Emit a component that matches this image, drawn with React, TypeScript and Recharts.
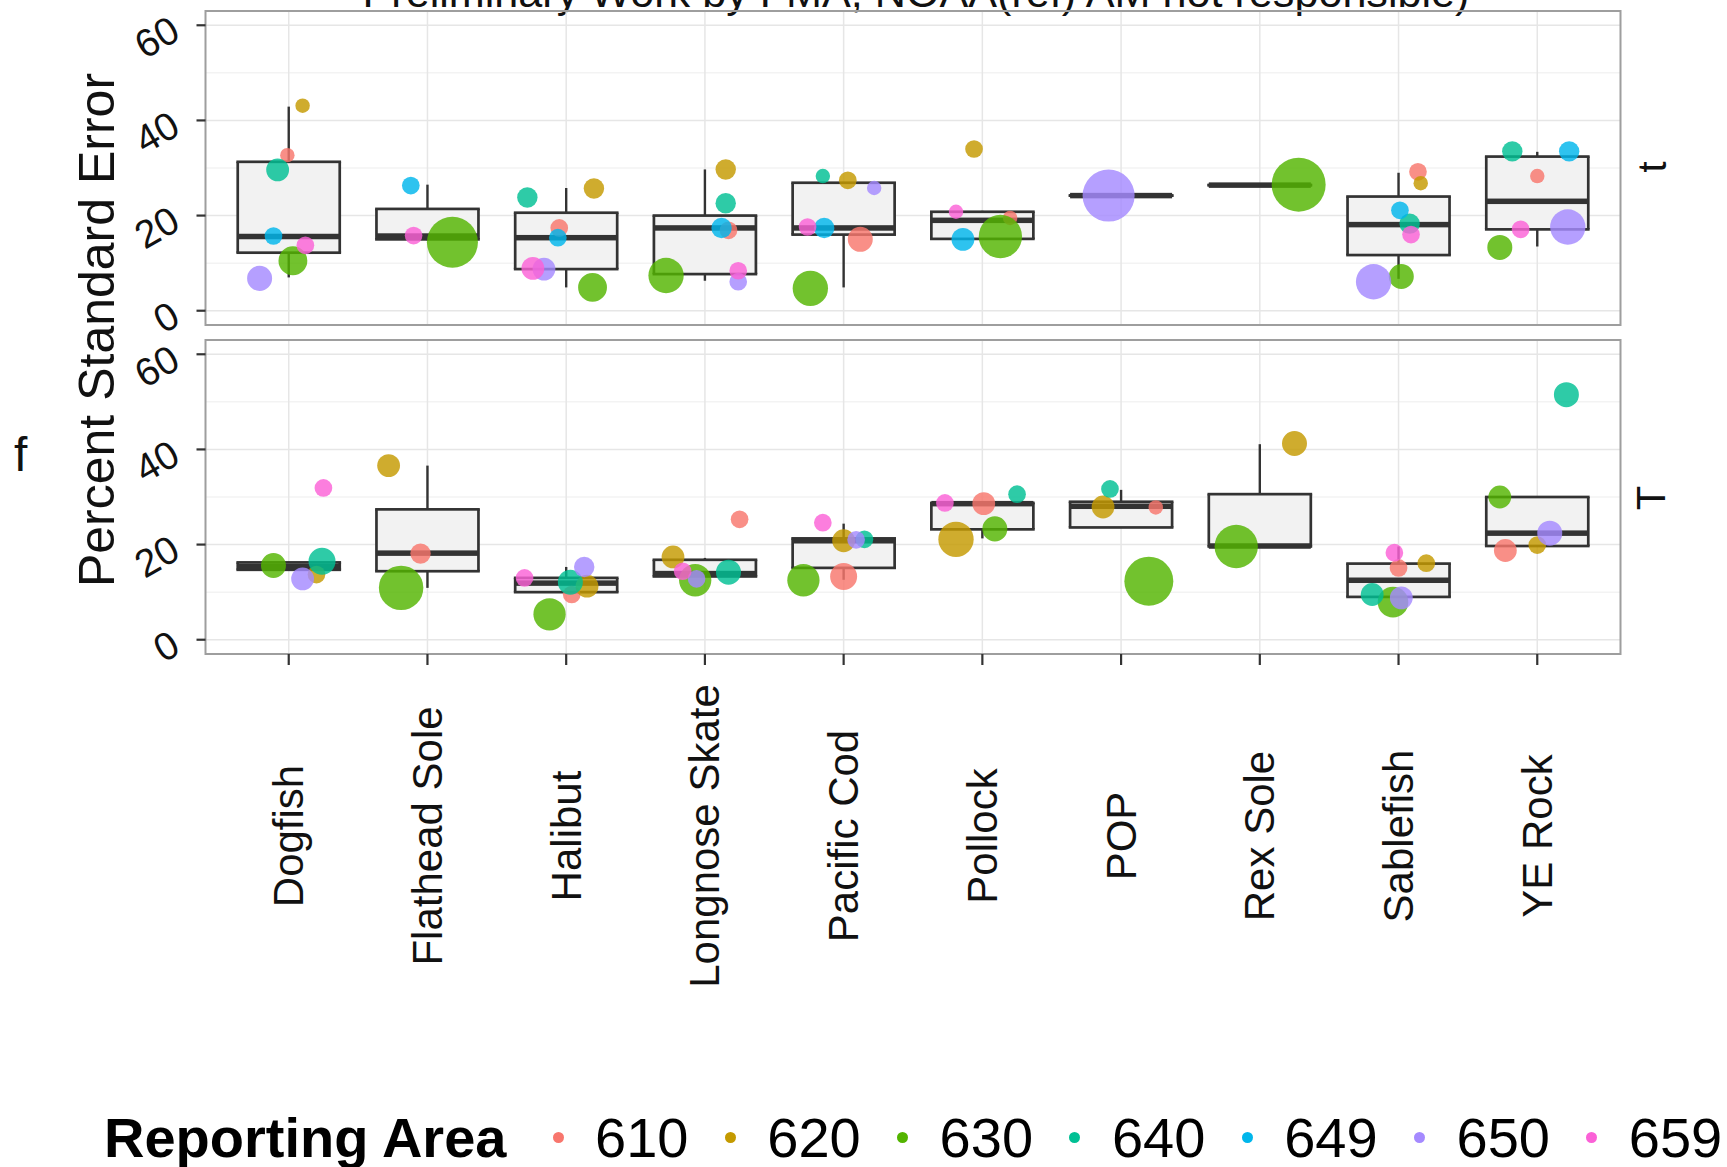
import {
  CartesianGrid,
  ComposedChart,
  ErrorBar,
  Legend,
  ReferenceArea,
  Scatter,
  XAxis,
  YAxis,
  ZAxis,
} from "recharts";

const species = [
  "Dogfish",
  "Flathead Sole",
  "Halibut",
  "Longnose Skate",
  "Pacific Cod",
  "Pollock",
  "POP",
  "Rex Sole",
  "Sablefish",
  "YE Rock",
];
const areas = ["610", "620", "630", "640", "649", "650", "659"];
const areaColors = ["#F8766D", "#C49A00", "#53B400", "#00C094", "#00B6EB", "#A58AFF", "#FB61D7"];
const yTicks = [0, 20, 40, 60];
const yMinor = [10, 30, 50];
const xTicks = [1, 2, 3, 4, 5, 6, 7, 8, 9, 10];

// box stats (top panel "t"), one per species
const topLo = [7.0, 14.8, 4.9, 6.3, 4.9, 15.1, 24.2, 26.4, 6.7, 13.5];
const topQ1 = [12.2, 15.0, 8.75, 7.7, 16.0, 15.1, 24.2, 26.4, 11.7, 17.1];
const topMed = [15.6, 15.7, 15.35, 17.4, 17.4, 19.0, 24.2, 26.4, 18.1, 23.0];
const topQ3 = [31.3, 21.4, 20.6, 20.0, 26.9, 20.8, 24.2, 26.4, 24.0, 32.4];
const topHi = [42.9, 26.5, 25.8, 29.7, 27.0, 21.0, 24.2, 26.4, 29.0, 33.4];

// box stats (bottom panel "T")
const botLo = [14.7, 10.9, 10.0, 13.3, 12.6, 21.3, 23.6, 19.6, 9.0, 19.7];
const botQ1 = [14.7, 14.4, 10.0, 13.3, 15.1, 23.2, 23.6, 19.6, 9.0, 19.7];
const botMed = [15.4, 18.2, 11.9, 13.9, 20.8, 28.6, 28.05, 19.7, 12.5, 22.4];
const botQ3 = [16.25, 27.4, 13.0, 16.8, 21.3, 28.75, 29.0, 30.6, 16.0, 30.0];
const botHi = [16.25, 36.6, 15.3, 17.2, 24.4, 28.75, 31.5, 41.1, 19.6, 30.0];

// points: [species #, percent SE, jitter, hauls]
const top610 = [[1, 32.7, -0.01, 2], [3, 17.4, -0.05, 3], [4, 16.9, 0.17, 3], [5, 15.0, 0.12, 6], [6, 19.5, 0.2, 2], [9, 29.2, 0.14, 3], [10, 28.3, 0.0, 2]];
const top620 = [[1, 43.1, 0.1, 2], [3, 25.7, 0.2, 4], [4, 29.7, 0.15, 4], [5, 27.4, 0.03, 3], [6, 34.0, -0.06, 3], [9, 26.8, 0.16, 2]];
const top630 = [[1, 10.5, 0.03, 8], [2, 14.4, 0.18, 25], [3, 4.9, 0.19, 8], [4, 7.4, -0.28, 12], [5, 4.7, -0.24, 12], [6, 15.6, 0.13, 18], [8, 26.5, 0.28, 28], [9, 7.2, 0.02, 6], [10, 13.3, -0.27, 6]];
const top640 = [[1, 29.6, -0.08, 5], [3, 23.8, -0.28, 4], [4, 22.6, 0.15, 4], [5, 28.3, -0.15, 2], [9, 18.3, 0.08, 4], [10, 33.5, -0.18, 4]];
const top649 = [[1, 15.7, -0.11, 3], [2, 26.3, -0.12, 3], [3, 15.35, -0.06, 3], [4, 17.4, 0.12, 4], [5, 17.4, -0.14, 4], [6, 15.0, -0.14, 5], [9, 21.1, 0.01, 3], [10, 33.5, 0.23, 4]];
const top650 = [[1, 6.8, -0.21, 6], [3, 8.75, -0.16, 5], [4, 6.1, 0.24, 3], [5, 25.8, 0.22, 2], [7, 24.2, -0.09, 26], [9, 6.1, -0.18, 12], [10, 17.6, 0.22, 12]];
const top659 = [[1, 13.75, 0.12, 3], [2, 15.8, -0.1, 3], [3, 8.9, -0.24, 5], [4, 8.4, 0.24, 3], [5, 17.6, -0.26, 3], [6, 20.8, -0.19, 2], [9, 16.0, 0.09, 3], [10, 17.1, -0.12, 3]];

const bot610 = [[2, 18.1, -0.05, 4], [3, 9.5, 0.04, 3], [4, 25.3, 0.25, 3], [5, 13.3, 0.0, 7], [6, 28.6, 0.01, 5], [7, 27.8, 0.25, 2], [9, 15.1, 0.0, 3], [10, 18.75, -0.23, 5]];
const bot620 = [[1, 13.7, 0.2, 3], [2, 36.6, -0.28, 5], [3, 11.25, 0.15, 5], [4, 17.4, -0.23, 5], [5, 20.8, 0.0, 5], [6, 21.1, -0.19, 12], [7, 27.9, -0.13, 5], [8, 41.25, 0.25, 6], [9, 16.1, 0.2, 3], [10, 19.9, 0.0, 3]];
const bot630 = [[1, 15.6, -0.11, 6], [2, 10.9, -0.19, 19], [3, 5.35, -0.12, 10], [4, 12.5, -0.07, 10], [5, 12.5, -0.29, 10], [6, 23.3, 0.09, 6], [7, 12.3, 0.2, 23], [8, 19.6, -0.17, 18], [9, 7.9, -0.04, 9], [10, 30.0, -0.27, 5]];
const bot640 = [[1, 16.5, 0.24, 7], [3, 12.1, 0.03, 6], [4, 14.2, 0.17, 6], [5, 21.1, 0.15, 3], [6, 30.6, 0.25, 3], [7, 31.7, -0.08, 3], [9, 9.5, -0.19, 5], [10, 51.5, 0.21, 6]];
const bot649: number[][] = [];
const bot650 = [[1, 12.8, 0.1, 5], [3, 15.3, 0.13, 4], [4, 12.8, -0.06, 3], [5, 21.0, 0.09, 3], [9, 8.8, 0.02, 5], [10, 22.4, 0.09, 6]];
const bot659 = [[1, 31.9, 0.25, 3], [3, 13.0, -0.3, 3], [4, 14.4, -0.16, 3], [5, 24.6, -0.15, 3], [6, 28.75, -0.27, 3], [9, 18.3, -0.03, 3]];

const topPoints = [top610, top620, top630, top640, top649, top650, top659];
const botPoints = [bot610, bot620, bot630, bot640, bot649, bot650, bot659];

const FONT = '"Liberation Sans", Arial, Helvetica, sans-serif';
const W = 1727;
const PLOT_RIGHT = 1620.5;
const Y_AXIS_W = 205.5;
const BOX_W = 102;
const EDGE = 2.7;

const buildRows = (lo: number[], q1: number[], med: number[], q3: number[], hi: number[]) =>
  species.map((name, i) => ({
    x: i + 1,
    name,
    q1: q1[i],
    q3: q3[i],
    med: med[i],
    span: [0, q3[i] - q1[i]],
    lowWhisk: [q1[i] - lo[i], 0],
    highWhisk: [0, hi[i] - q3[i]],
  }));

const toPoints = (arr: number[][]) =>
  arr.map(([s, v, j, n]) => ({ x: s + j, y: v, n, species: species[s - 1] }));

const topRows = buildRows(topLo, topQ1, topMed, topQ3, topHi);
const botRows = buildRows(botLo, botQ1, botMed, botQ3, botHi);

const Nothing = () => <g />;

const MedianMark = (props: any) => {
  const { cx, cy } = props;
  return <rect x={cx - BOX_W / 2} y={cy - 2.75} width={BOX_W} height={5.5} fill="#333333" />;
};

const EdgeMark = (props: any) => {
  const { cx, cy } = props;
  return <rect x={cx - BOX_W / 2 - EDGE / 2} y={cy - EDGE / 2} width={BOX_W + EDGE} height={EDGE} fill="#333333" />;
};

const ValueTick = (props: any) => {
  const { x, y, payload } = props;
  const ax = x - 19;
  const ay = y + 1;
  return (
    <text
      x={ax}
      y={ay}
      transform={`rotate(-30, ${ax}, ${ay})`}
      textAnchor="end"
      dominantBaseline="central"
      fontSize={39}
      fontFamily={FONT}
      fill="#111"
    >
      {payload.value}
    </text>
  );
};

const SpeciesTick = (props: any) => {
  const { x, y, payload } = props;
  const cy = y + 169;
  return (
    <text
      x={x}
      y={cy}
      transform={`rotate(-90, ${x}, ${cy})`}
      textAnchor="middle"
      dominantBaseline="central"
      fontSize={42}
      fontFamily={FONT}
      fill="#111"
    >
      {species[payload.value - 1]}
    </text>
  );
};

const renderLegend = (props: any) => {
  const payload = (props.payload || []).filter((p: any) => areas.includes(String(p.value)));
  const entries = payload.length
    ? payload.map((p: any) => ({ label: String(p.value), color: p.color }))
    : areas.map((a, i) => ({ label: a, color: areaColors[i] }));
  return (
    <div style={{ position: "relative", width: W, height: 56, fontFamily: FONT, color: "#000" }}>
      <div
        style={{ position: "absolute", left: 104, top: 0, lineHeight: "56px", fontSize: 56, fontWeight: "bold" }}
      >
        Reporting Area
      </div>
      {entries.map((e: any, i: number) => {
        const cx = 558 + i * 172.3;
        return (
          <div key={e.label}>
            <div
              style={{
                position: "absolute",
                left: cx - 5.5,
                top: 22,
                width: 11,
                height: 11,
                borderRadius: "50%",
                background: e.color,
              }}
            />
            <div style={{ position: "absolute", left: cx + 37, top: 0, lineHeight: "56px", fontSize: 56 }}>
              {e.label}
            </div>
          </div>
        );
      })}
    </div>
  );
};

function Panel(props: {
  rows: any[];
  points: number[][][];
  height: number;
  marginBottom: number;
  bottomAxis: boolean;
}) {
  const { rows, points, height, marginBottom, bottomAxis } = props;
  return (
    <ComposedChart
      width={W}
      height={height}
      data={rows}
      margin={{ top: 11, right: W - PLOT_RIGHT, bottom: marginBottom, left: 0 }}
    >
      <CartesianGrid stroke="#f3f3f3" strokeWidth={1.5} horizontalValues={yMinor} vertical={false} />
      <CartesianGrid stroke="#e6e6e6" strokeWidth={1.5} horizontalValues={yTicks} verticalValues={xTicks} />
      <XAxis
        dataKey="x"
        type="number"
        domain={[0.4, 10.6]}
        ticks={xTicks}
        interval={0}
        hide={!bottomAxis}
        height={bottomAxis ? 340 : 0}
        axisLine={false}
        tickSize={11}
        tickLine={{ stroke: "#333", strokeWidth: 2.2 }}
        tick={<SpeciesTick />}
      />
      <YAxis
        type="number"
        domain={[-3, 63]}
        ticks={yTicks}
        interval={0}
        width={Y_AXIS_W}
        axisLine={false}
        tickSize={9}
        tickLine={{ stroke: "#333", strokeWidth: 2.2 }}
        tick={<ValueTick />}
      />
      <ZAxis type="number" dataKey="n" domain={[0, 28]} range={[0, 2290]} />
      {/* whiskers */}
      <Scatter data={rows} dataKey="q1" shape={<Nothing />} legendType="none" isAnimationActive={false}>
        <ErrorBar dataKey="lowWhisk" direction="y" width={0} stroke="#333" strokeWidth={2.4} />
      </Scatter>
      <Scatter data={rows} dataKey="q3" shape={<Nothing />} legendType="none" isAnimationActive={false}>
        <ErrorBar dataKey="highWhisk" direction="y" width={0} stroke="#333" strokeWidth={2.4} />
      </Scatter>
      {/* box body: dark slab under a lighter one gives the side edges */}
      <Scatter data={rows} dataKey="q1" shape={<Nothing />} legendType="none" isAnimationActive={false}>
        <ErrorBar dataKey="span" direction="y" width={0} stroke="#333" strokeWidth={BOX_W + EDGE} />
      </Scatter>
      <Scatter data={rows} dataKey="q1" shape={<Nothing />} legendType="none" isAnimationActive={false}>
        <ErrorBar dataKey="span" direction="y" width={0} stroke="#f2f2f2" strokeWidth={BOX_W - EDGE} />
      </Scatter>
      <Scatter data={rows} dataKey="q1" shape={<EdgeMark />} legendType="none" isAnimationActive={false} />
      <Scatter data={rows} dataKey="q3" shape={<EdgeMark />} legendType="none" isAnimationActive={false} />
      <Scatter data={rows} dataKey="med" shape={<MedianMark />} legendType="none" isAnimationActive={false} />
      {areas.map((a, i) => (
        <Scatter
          key={a}
          name={a}
          data={toPoints(points[i])}
          dataKey="y"
          fill={areaColors[i]}
          fillOpacity={0.82}
          shape="circle"
          isAnimationActive={false}
        />
      ))}
      <ReferenceArea x1={0.4} x2={10.6} y1={-3} y2={63} fill="none" stroke="#9e9e9e" strokeWidth={2} />
      {bottomAxis && (
        <Legend
          layout="vertical"
          align="center"
          verticalAlign="middle"
          content={renderLegend}
          wrapperStyle={{ position: "absolute", top: 780.6, left: 0, width: W, height: 56 }}
        />
      )}
    </ComposedChart>
  );
}

export default function App() {
  return (
    <div style={{ position: "absolute", left: 0, top: 0, width: W, height: 1167, background: "#fff", overflow: "hidden" }}>
      <svg width={W} height={1167} style={{ position: "absolute", left: 0, top: 0 }}>
        <text x={916} y={7} textAnchor="middle" fontSize={42} fontFamily={FONT} fill="#111" textLength={1107} lengthAdjust="spacingAndGlyphs">
          Preliminary Work by FMA, NOAA(ref) AM not responsible)
        </text>
        <text
          x={114}
          y={330}
          transform="rotate(-90, 114, 330)"
          textAnchor="middle"
          fontSize={50}
          fontFamily={FONT}
          fill="#111"
        >
          Percent Standard Error
        </text>
        <text x={14} y={471} fontSize={48} fontFamily={FONT} fill="#111">
          f
        </text>
        <text
          x={1652}
          y={167}
          transform="rotate(-90, 1652, 167)"
          textAnchor="middle"
          dominantBaseline="central"
          fontSize={40}
          fontFamily={FONT}
          fill="#111"
        >
          t
        </text>
        <text
          x={1651}
          y={498}
          transform="rotate(-90, 1651, 498)"
          textAnchor="middle"
          dominantBaseline="central"
          fontSize={40}
          fontFamily={FONT}
          fill="#111"
        >
          T
        </text>
      </svg>
      <div style={{ position: "absolute", left: 0, top: 0 }}>
        <Panel rows={topRows} points={topPoints} height={340} marginBottom={15} bottomAxis={false} />
      </div>
      <div style={{ position: "absolute", left: 0, top: 329 }}>
        <Panel rows={botRows} points={botPoints} height={838} marginBottom={173} bottomAxis={true} />
      </div>
    </div>
  );
}
